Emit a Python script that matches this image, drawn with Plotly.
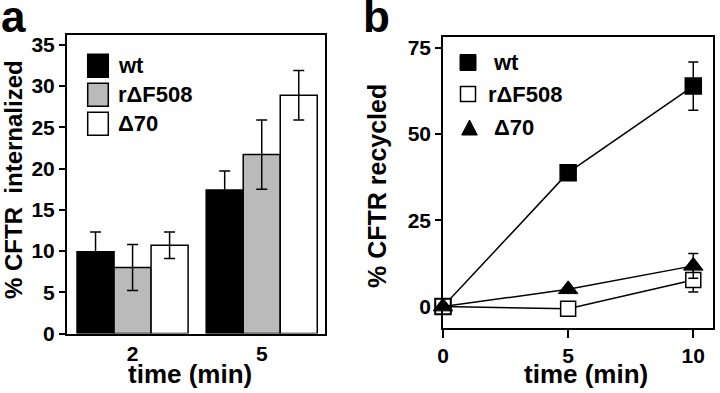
import plotly.graph_objects as go

# ---------------- data ----------------
# panel a: % CFTR internalized (bars)
times_a = ["2", "5"]
series_a = ["wt", "r\u0394F508", "\u039470"]
wt_int = [9.9, 17.4]
wt_int_err = [2.4, 2.3]
rdf_int = [8.0, 21.7]
rdf_int_err = [2.8, 4.2]
d70_int = [10.7, 28.9]
d70_int_err = [1.6, 3.0]

# panel b: % CFTR recycled (lines)
times_b = [0, 5, 10]
wt_rec = [0.0, 38.8, 63.9]
wt_rec_err = [0, 0, 7.0]
rdf_rec = [0.0, -0.6, 7.7]
rdf_rec_err = [0, 0, 3.5]
d70_rec = [0.0, 5.0, 11.8]
d70_rec_err = [0, 0, 3.6]

yticks_a = [0, 5, 10, 15, 20, 25, 30, 35]
yticks_b = [0, 25, 50, 75]
xticks_b = [0, 5, 10]

W, H = 720, 393
FONT = "Liberation Sans, Arial, Helvetica, sans-serif"

def px(x):
    return x / W

def py(y):
    return 1 - y / H

fig = go.Figure()

bar_colors = ["#000000", "#bababa", "#ffffff"]
bar_vals = [wt_int, rdf_int, d70_int]
bar_errs = [wt_int_err, rdf_int_err, d70_int_err]
for name, vals, errs, col in zip(series_a, bar_vals, bar_errs, bar_colors):
    fig.add_trace(go.Bar(
        x=times_a, y=vals, name=name, marker=dict(color=col, line=dict(color="black", width=1.5)),
        error_y=dict(type="data", array=errs, visible=True, color="black", thickness=1.5, width=5.5),
        xaxis="x", yaxis="y", showlegend=False,
    ))

line_specs = [
    ("wt", wt_rec, wt_rec_err, dict(symbol="square", size=16, color="black", line=dict(color="black", width=1.5))),
    ("r\u0394F508", rdf_rec, rdf_rec_err, dict(symbol="square", size=15, color="white", line=dict(color="black", width=1.5))),
    ("\u039470", d70_rec, d70_rec_err, dict(symbol="triangle-up", size=17, color="black", line=dict(color="black", width=1))),
]
for name, vals, errs, mk in line_specs:
    fig.add_trace(go.Scatter(
        x=times_b, y=vals, name=name, mode="lines+markers",
        line=dict(color="black", width=1.5), marker=mk,
        error_y=dict(type="data", array=errs, visible=True, color="black", thickness=1.5, width=5),
        xaxis="x2", yaxis="y2", showlegend=False, cliponaxis=False,
    ))

axis_common = dict(showline=True, linecolor="black", linewidth=1.5, mirror=True,
                   showgrid=False, zeroline=False, automargin=False,
                   tickfont=dict(family=FONT, size=21, color="black", weight="bold"))

fig.update_layout(
    template="none",
    width=W, height=H, margin=dict(l=0, r=0, t=0, b=0, pad=0, autoexpand=False),
    paper_bgcolor="white", plot_bgcolor="white",
    barmode="group", bargap=0.14, bargroupgap=0,
    xaxis=dict(type="category", domain=[px(66.7), px(325)], range=[-0.51, 1.49], ticks="",
               ticklabelstandoff=1, **axis_common),
    yaxis=dict(domain=[py(333.5), py(35)], range=[0, 36.2], tickvals=yticks_a,
               ticks="outside", ticklen=6, tickwidth=1.5, tickcolor="black", **axis_common),
    xaxis2=dict(domain=[px(443), px(713.3)], range=[0, 10.8], tickvals=xticks_b,
                ticks="outside", ticklen=8, tickwidth=1.5, tickcolor="black", anchor="y2", **axis_common),
    yaxis2=dict(domain=[py(328), py(36.7)], range=[-6.2, 78.2], tickvals=yticks_b,
                ticks="outside", ticklen=6, tickwidth=1.5, tickcolor="black", anchor="x2", **axis_common),
    font=dict(family=FONT, color="black"),
)

ann = []
def text(x, y, s, size, xanchor="left", yanchor="middle", angle=0):
    ann.append(dict(x=px(x), y=py(y), xref="paper", yref="paper", text=s, showarrow=False,
                    xanchor=xanchor, yanchor=yanchor, textangle=angle,
                    font=dict(family=FONT, size=size, color="black", weight="bold")))

# panel letters
text(-1, -10, "a", 44, yanchor="top")
text(361, -10, "b", 44, yanchor="top")
# axis titles
text(190, 373.5, "time (min)", 26, xanchor="center")
text(586, 373.5, "time (min)", 26, xanchor="center")
text(13, 180, "% CFTR  internalized", 24, xanchor="center", angle=-90)
text(377, 186, "% CFTR recycled", 25, xanchor="center", angle=-90)

# legend panel a
shapes = []
leg_a_y = [65.8, 94.7, 123.7]
for name, col, yc in zip(series_a, bar_colors, leg_a_y):
    shapes.append(dict(type="rect", xref="paper", yref="paper",
                       x0=px(87.7), x1=px(108.3), y0=py(yc + 11.5), y1=py(yc - 11.5),
                       fillcolor=col, line=dict(color="black", width=1.5)))
    text(115.5, yc, name, 22)

# legend panel b
shapes.append(dict(type="rect", xref="paper", yref="paper", x0=px(460), x1=px(476),
                   y0=py(70.5), y1=py(54.5), fillcolor="black", line=dict(color="black", width=1)))
shapes.append(dict(type="rect", xref="paper", yref="paper", x0=px(460.5), x1=px(475.5),
                   y0=py(101.5), y1=py(86.5), fillcolor="white", line=dict(color="black", width=1.5)))
tri = f"M {px(461.7)} {py(135)} L {px(477.3)} {py(135)} L {px(469.5)} {py(120)} Z"
shapes.append(dict(type="path", xref="paper", yref="paper", path=tri, fillcolor="black",
                   line=dict(color="black", width=1)))
text(491, 62.5, "wt", 22)
text(486, 94, "r\u0394F508", 22)
text(491.5, 127.5, "\u039470", 22)

fig.update_layout(annotations=ann, shapes=shapes)
fig.write_html("out.html", config={"displayModeBar": False},
               post_script="document.body.style.margin='0';document.body.style.overflow='hidden';")
